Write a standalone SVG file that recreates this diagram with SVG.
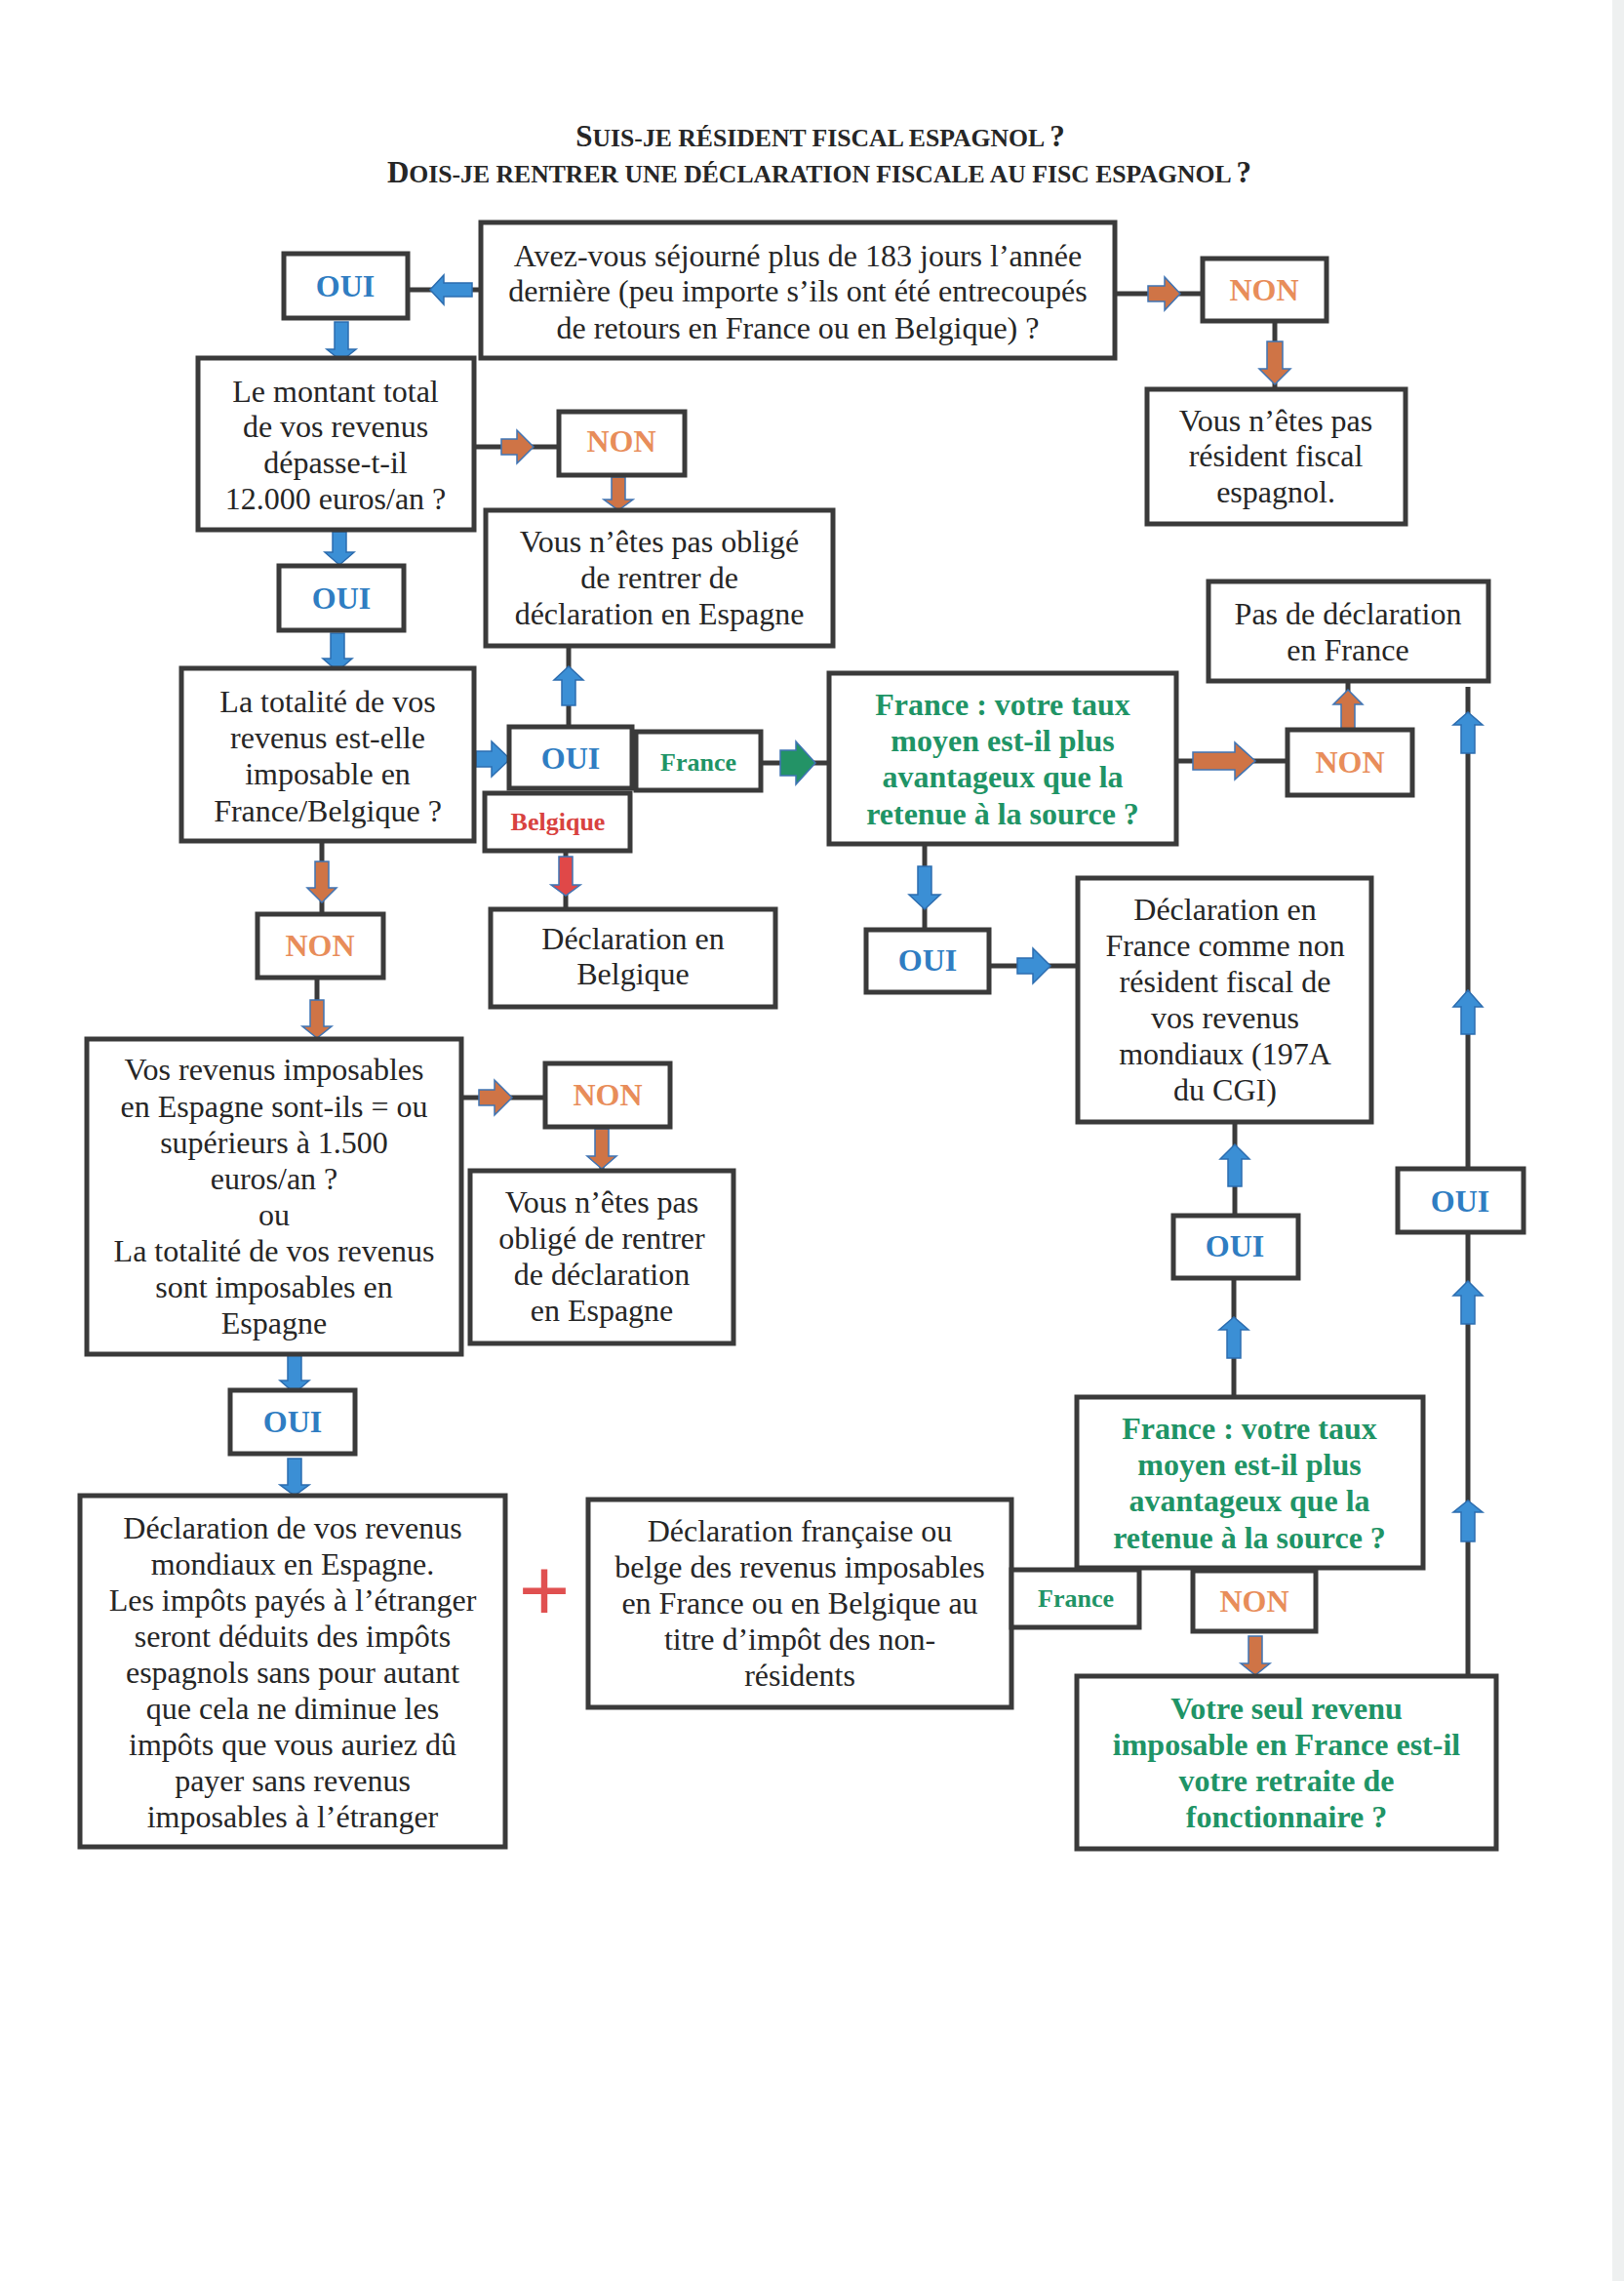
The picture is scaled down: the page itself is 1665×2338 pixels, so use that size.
<svg xmlns="http://www.w3.org/2000/svg" width="1665" height="2338" viewBox="0 0 1665 2338">
<style>
.bx{fill:#fff;stroke:#3a3a3a;stroke-width:5}
.ln{fill:none;stroke:#3a3a3a;stroke-width:5}
.t{font-family:"Liberation Serif","Times New Roman",serif;font-size:32px;fill:#262626;text-anchor:middle}
.b{font-weight:bold}
.blue{fill:#2f7dc2}
.org{fill:#e88d5a}
.grn{fill:#1f9466}
.red{fill:#d8423f}
.sm{font-size:26px}
.ab{fill:#3b8fd5;stroke:#2c6db0;stroke-width:1.5}
.ao{fill:#cf7446;stroke:#3f74b4;stroke-width:1.5}
.ag{fill:#239366;stroke:#3f74b4;stroke-width:1.5}
.ar{fill:#e04848;stroke:#3f74b4;stroke-width:1.5}
.ttl{font-family:"Liberation Serif","Times New Roman",serif;font-weight:bold;fill:#262626;text-anchor:middle}
</style>
<rect x="0" y="0" width="1665" height="2338" fill="#ffffff"/>
<rect x="1653" y="0" width="12" height="2338" fill="#eef0f0"/>
<g id="title">
<text class="ttl" x="841" y="150" font-size="25.7"><tspan font-size="31">S</tspan>UIS-JE RÉSIDENT FISCAL ESPAGNOL <tspan font-size="31">?</tspan></text>
<text class="ttl" x="840" y="187" font-size="25.7"><tspan font-size="31">D</tspan>OIS-JE RENTRER UNE DÉCLARATION FISCALE AU FISC ESPAGNOL <tspan font-size="31">?</tspan></text>
</g>
<g id="connectors">
<path class="ln" d="M418,297 H493 M1143,301 H1233 M1307,329 V399 M486,458 H573 M634,487 V523 M583,745 V662 M780,782 H850 M580,872 V932 M1206,780 H1320 M1382,748 V698 M948,865 V953 M1014,990 H1105 M330,862 V937 M325,1002 V1065 M473,1125 H559 M617,1155 V1200 M1265,1432 V1310 M1266,1246 V1150 M1505,1718 V704"/>
<path class="ab" d="M484,290 V304 H455 V312 L441,297 L455,282 V290 Z"/>
<path class="ab" d="M343,330 H357 V358 H365 L350,370 L335,358 H343 Z"/>
<path class="ao" d="M1177,293 V309 H1194 V318 L1210,301 L1194,284 V293 Z"/>
<path class="ao" d="M1299,350 H1315 V378 H1323 L1307,394 L1291,378 H1299 Z"/>
<path class="ao" d="M514,450 V466 H530 V475 L547,458 L530,441 V450 Z"/>
<path class="ao" d="M627,489 H641 V512 H649 L634,523 L619,512 H627 Z"/>
<path class="ab" d="M341,545 H355 V566 H363 L348,579 L333,566 H341 Z"/>
<path class="ab" d="M339,649 H353 V675 H361 L346,688 L331,675 H339 Z"/>
<path class="ab" d="M488,770 V786 H504 V796 L523,778 L504,760 V770 Z"/>
<path class="ab" d="M576,723 H590 V697 H598 L583,683 L568,697 H576 Z"/>
<path class="ag" d="M800,769 V795 H816 V804 L836,782 L816,760 V769 Z"/>
<path class="ar" d="M573,878 H587 V907 H595 L580,918 L565,907 H573 Z"/>
<path class="ao" d="M1223,771 V789 H1266 V799 L1287,780 L1266,761 V771 Z"/>
<path class="ao" d="M1375,747 H1389 V722 H1397 L1382,707 L1367,722 H1375 Z"/>
<path class="ab" d="M941,888 H955 V917 H964 L948,932 L932,917 H941 Z"/>
<path class="ab" d="M1043,982 V998 H1059 V1008 L1077,990 L1059,972 V982 Z"/>
<path class="ao" d="M323,883 H337 V910 H345 L330,925 L315,910 H323 Z"/>
<path class="ao" d="M318,1025 H332 V1052 H340 L325,1064 L310,1052 H318 Z"/>
<path class="ao" d="M491,1117 V1133 H507 V1143 L525,1125 L507,1107 V1117 Z"/>
<path class="ao" d="M610,1157 H624 V1185 H632 L617,1198 L602,1185 H610 Z"/>
<path class="ab" d="M295,1389 H309 V1415 H317 L302,1428 L287,1415 H295 Z"/>
<path class="ab" d="M295,1495 H309 V1522 H317 L302,1533 L287,1522 H295 Z"/>
<path class="ab" d="M1258,1392 H1272 V1363 H1280 L1265,1350 L1250,1363 H1258 Z"/>
<path class="ab" d="M1259,1216 H1273 V1188 H1281 L1266,1173 L1251,1188 H1259 Z"/>
<path class="ao" d="M1280,1677 H1294 V1705 H1302 L1287,1717 L1272,1705 H1280 Z"/>
<path class="ab" d="M1498,1580 H1512 V1550 H1520 L1505,1538 L1490,1550 H1498 Z"/>
<path class="ab" d="M1498,1357 H1512 V1328 H1520 L1505,1313 L1490,1328 H1498 Z"/>
<path class="ab" d="M1498,1060 H1512 V1032 H1520 L1505,1015 L1490,1032 H1498 Z"/>
<path class="ab" d="M1498,772 H1512 V743 H1520 L1505,730 L1490,743 H1498 Z"/>
</g>
<g id="q183">
<rect class="bx" x="493" y="228" width="650" height="139"/>
<text class="t" x="818" y="273">Avez-vous séjourné plus de 183 jours l’année</text>
<text class="t" x="818" y="309">dernière (peu importe s’ils ont été entrecoupés</text>
<text class="t" x="818" y="347">de retours en France ou en Belgique) ?</text>
</g>
<g id="oui1"><rect class="bx" x="291" y="260" width="127" height="66"/><text class="t b blue" x="354" y="304">OUI</text></g>
<g id="non1"><rect class="bx" x="1233" y="265" width="127" height="64"/><text class="t b org" x="1296" y="308">NON</text></g>
<g id="nonResident">
<rect class="bx" x="1176" y="399" width="265" height="138"/>
<text class="t" x="1308" y="442">Vous n’êtes pas</text>
<text class="t" x="1308" y="478">résident fiscal</text>
<text class="t" x="1308" y="515">espagnol.</text>
</g>
<g id="q12000">
<rect class="bx" x="203" y="367" width="283" height="176"/>
<text class="t" x="344" y="412">Le montant total</text>
<text class="t" x="344" y="448">de vos revenus</text>
<text class="t" x="344" y="485">dépasse-t-il</text>
<text class="t" x="344" y="522">12.000 euros/an ?</text>
</g>
<g id="non2"><rect class="bx" x="573" y="422" width="129" height="65"/><text class="t b org" x="637" y="463">NON</text></g>
<g id="pasOblige1">
<rect class="bx" x="498" y="523" width="356" height="139"/>
<text class="t" x="676" y="566">Vous n’êtes pas obligé</text>
<text class="t" x="676" y="603">de rentrer de</text>
<text class="t" x="676" y="640">déclaration en Espagne</text>
</g>
<g id="oui2"><rect class="bx" x="286" y="580" width="128" height="66"/><text class="t b blue" x="350" y="624">OUI</text></g>
<g id="qTotalite">
<rect class="bx" x="186" y="685" width="300" height="177"/>
<text class="t" x="336" y="730">La totalité de vos</text>
<text class="t" x="336" y="767">revenus est-elle</text>
<text class="t" x="336" y="804">imposable en</text>
<text class="t" x="336" y="842">France/Belgique ?</text>
</g>
<g id="oui3"><rect class="bx" x="522" y="745" width="126" height="63"/><text class="t b blue" x="585" y="788">OUI</text></g>
<g id="franceA"><rect class="bx" x="652" y="750" width="128" height="60"/><text class="t b grn sm" x="716" y="790">France</text></g>
<g id="belgique"><rect class="bx" x="497" y="813" width="149" height="59"/><text class="t b red sm" x="572" y="851">Belgique</text></g>
<g id="declBelgique">
<rect class="bx" x="503" y="932" width="292" height="100"/>
<text class="t" x="649" y="973">Déclaration en</text>
<text class="t" x="649" y="1009">Belgique</text>
</g>
<g id="qTaux1">
<rect class="bx" x="850" y="690" width="356" height="175"/>
<text class="t b grn" x="1028" y="733">France : votre taux</text>
<text class="t b grn" x="1028" y="770">moyen est-il plus</text>
<text class="t b grn" x="1028" y="807">avantageux que la</text>
<text class="t b grn" x="1028" y="845">retenue à la source ?</text>
</g>
<g id="non3"><rect class="bx" x="1320" y="748" width="128" height="67"/><text class="t b org" x="1384" y="792">NON</text></g>
<g id="pasDeclFrance">
<rect class="bx" x="1239" y="596" width="287" height="102"/>
<text class="t" x="1382" y="640">Pas de déclaration</text>
<text class="t" x="1382" y="677">en France</text>
</g>
<g id="oui4"><rect class="bx" x="888" y="953" width="126" height="64"/><text class="t b blue" x="951" y="995">OUI</text></g>
<g id="declNonResident">
<rect class="bx" x="1105" y="900" width="301" height="250"/>
<text class="t" x="1256" y="943">Déclaration en</text>
<text class="t" x="1256" y="980">France comme non</text>
<text class="t" x="1256" y="1017">résident fiscal de</text>
<text class="t" x="1256" y="1054">vos revenus</text>
<text class="t" x="1256" y="1091">mondiaux (197A</text>
<text class="t" x="1256" y="1128">du CGI)</text>
</g>
<g id="non4"><rect class="bx" x="264" y="937" width="129" height="65"/><text class="t b org" x="328" y="980">NON</text></g>
<g id="qEspagne">
<rect class="bx" x="89" y="1065" width="384" height="323"/>
<text class="t" x="281" y="1107">Vos revenus imposables</text>
<text class="t" x="281" y="1145">en Espagne sont-ils = ou</text>
<text class="t" x="281" y="1182">supérieurs à 1.500</text>
<text class="t" x="281" y="1219">euros/an ?</text>
<text class="t" x="281" y="1256">ou</text>
<text class="t" x="281" y="1293">La totalité de vos revenus</text>
<text class="t" x="281" y="1330">sont imposables en</text>
<text class="t" x="281" y="1367">Espagne</text>
</g>
<g id="non5"><rect class="bx" x="559" y="1090" width="128" height="65"/><text class="t b org" x="623" y="1133">NON</text></g>
<g id="pasOblige2">
<rect class="bx" x="482" y="1200" width="270" height="177"/>
<text class="t" x="617" y="1243">Vous n’êtes pas</text>
<text class="t" x="617" y="1280">obligé de rentrer</text>
<text class="t" x="617" y="1317">de déclaration</text>
<text class="t" x="617" y="1354">en Espagne</text>
</g>
<g id="oui6"><rect class="bx" x="236" y="1425" width="128" height="65"/><text class="t b blue" x="300" y="1468">OUI</text></g>
<g id="declMondiaux">
<rect class="bx" x="82" y="1533" width="436" height="360"/>
<text class="t" x="300" y="1577">Déclaration de vos revenus</text>
<text class="t" x="300" y="1614">mondiaux en Espagne.</text>
<text class="t" x="300" y="1651">Les impôts payés à l’étranger</text>
<text class="t" x="300" y="1688">seront déduits des impôts</text>
<text class="t" x="300" y="1725">espagnols sans pour autant</text>
<text class="t" x="300" y="1762">que cela ne diminue les</text>
<text class="t" x="300" y="1799">impôts que vous auriez dû</text>
<text class="t" x="300" y="1836">payer sans revenus</text>
<text class="t" x="300" y="1873">imposables à l’étranger</text>
</g>
<g id="plus"><text x="558" y="1661" font-family="Liberation Sans, Arial, sans-serif" font-size="90" fill="#e05050" text-anchor="middle">+</text></g>
<g id="declFrBe">
<rect class="bx" x="603" y="1537" width="434" height="213"/>
<text class="t" x="820" y="1580">Déclaration française ou</text>
<text class="t" x="820" y="1617">belge des revenus imposables</text>
<text class="t" x="820" y="1654">en France ou en Belgique au</text>
<text class="t" x="820" y="1691">titre d’impôt des non-</text>
<text class="t" x="820" y="1728">résidents</text>
</g>
<g id="franceB"><rect class="bx" x="1037" y="1609" width="131" height="59"/><text class="t b grn sm" x="1103" y="1647">France</text></g>
<g id="qTaux2">
<rect class="bx" x="1104" y="1432" width="355" height="175"/>
<text class="t b grn" x="1281" y="1475">France : votre taux</text>
<text class="t b grn" x="1281" y="1512">moyen est-il plus</text>
<text class="t b grn" x="1281" y="1549">avantageux que la</text>
<text class="t b grn" x="1281" y="1587">retenue à la source ?</text>
</g>
<g id="non6"><rect class="bx" x="1223" y="1610" width="126" height="62"/><text class="t b org" x="1286" y="1652">NON</text></g>
<g id="qRetraite">
<rect class="bx" x="1104" y="1718" width="430" height="177"/>
<text class="t b grn" x="1319" y="1762">Votre seul revenu</text>
<text class="t b grn" x="1319" y="1799">imposable en France est-il</text>
<text class="t b grn" x="1319" y="1836">votre retraite de</text>
<text class="t b grn" x="1319" y="1873">fonctionnaire ?</text>
</g>
<g id="oui5"><rect class="bx" x="1203" y="1246" width="128" height="64"/><text class="t b blue" x="1266" y="1288">OUI</text></g>
<g id="ouiR"><rect class="bx" x="1433" y="1198" width="129" height="65"/><text class="t b blue" x="1497" y="1242">OUI</text></g>
</svg>
